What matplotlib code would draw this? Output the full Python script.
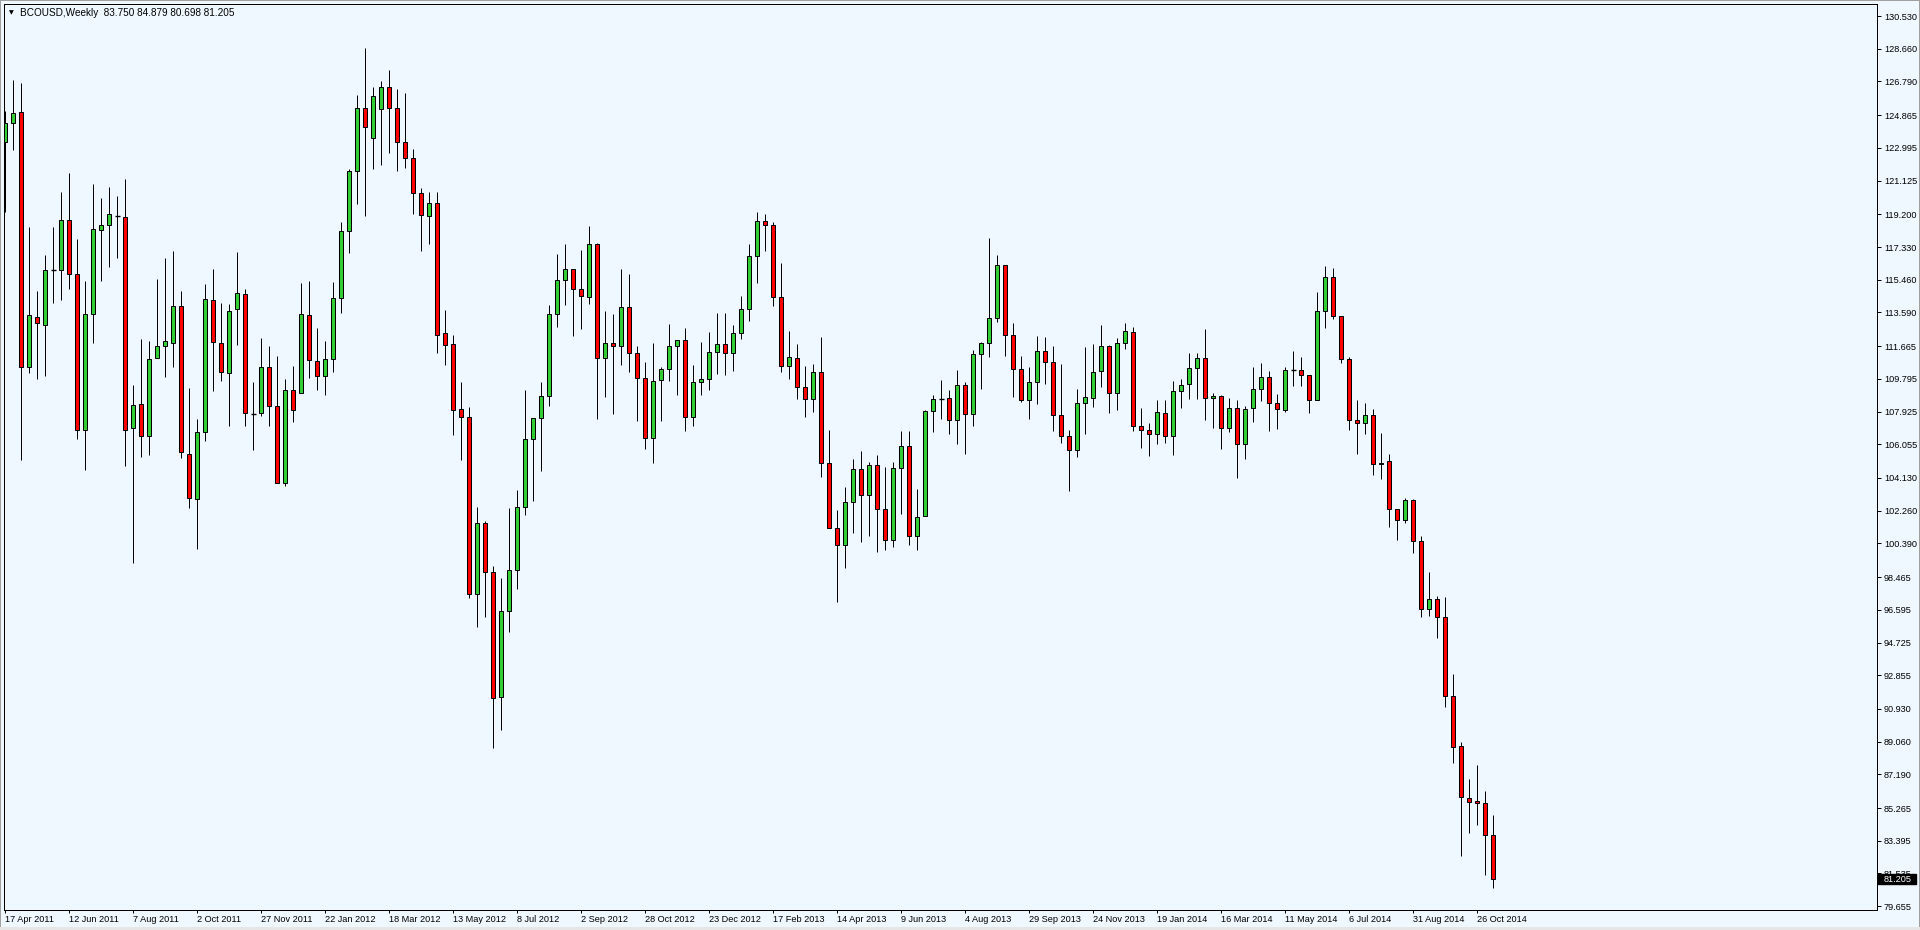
import matplotlib
matplotlib.use('Agg')
import matplotlib.pyplot as plt
from matplotlib.patches import Rectangle
import matplotlib.transforms as mtransforms

# ---------------- data (weekly BCOUSD candles) ----------------
opens = [123.35, 124.40, 125.03, 110.50, 113.32, 112.88, 115.99, 115.99, 118.85, 115.78,
         106.86, 113.51, 118.28, 118.57, 119.10, 119.02, 106.96, 108.34, 106.51, 110.98,
         111.65, 111.86, 113.95, 105.49, 102.91, 106.76, 114.28, 111.87, 110.11, 113.81,
         114.67, 107.77, 107.83, 110.50, 108.22, 103.86, 109.14, 109.01, 113.47, 110.84,
         109.98, 110.95, 114.44, 118.22, 121.66, 125.25, 123.54, 125.20, 126.46, 125.25,
         123.31, 122.44, 120.40, 119.11, 119.83, 112.40, 111.77, 108.06, 107.59, 97.49,
         101.55, 98.73, 91.61, 96.51, 98.85, 102.45, 106.34, 107.55, 108.79, 113.49,
         115.42, 116.06, 114.91, 114.47, 117.49, 110.98, 111.83, 111.65, 113.93, 111.26,
         109.83, 106.40, 109.71, 110.34, 111.65, 112.00, 107.60, 109.60, 109.77, 111.31,
         111.77, 111.25, 112.40, 113.77, 116.80, 118.80, 118.57, 114.45, 110.53, 110.97,
         109.31, 108.63, 110.17, 104.97, 101.25, 100.28, 102.74, 104.63, 103.14, 104.85,
         102.38, 100.60, 104.68, 105.94, 100.80, 101.94, 107.94, 108.64, 108.68, 107.43,
         109.43, 107.77, 111.20, 111.83, 113.25, 116.28, 112.28, 110.34, 108.57, 109.60,
         111.37, 110.74, 107.71, 106.51, 105.71, 108.40, 108.68, 110.23, 111.65, 108.97,
         111.83, 112.45, 107.08, 106.85, 106.63, 107.83, 106.51, 109.08, 109.48, 110.40,
         110.97, 108.68, 108.80, 106.97, 108.11, 106.05, 108.11, 109.20, 109.88, 108.40,
         108.04, 110.33, 110.33, 109.99, 108.57, 113.70, 115.60, 113.36, 110.91, 107.42,
         107.25, 107.75, 104.92, 105.09, 102.34, 101.72, 102.85, 100.52, 96.64, 97.20,
         96.19, 91.66, 88.80, 85.82, 85.65, 85.53, 83.750]
highs = [125.09, 126.88, 126.70, 118.47, 114.81, 116.86, 118.47, 120.48, 121.56, 117.78,
         115.38, 120.93, 120.13, 120.76, 120.24, 121.21, 109.44, 112.08, 111.96, 115.50,
         116.70, 117.10, 114.81, 109.28, 107.49, 115.21, 116.09, 114.15, 114.05, 117.04,
         114.91, 109.61, 112.13, 111.68, 111.11, 109.77, 110.53, 115.28, 115.38, 112.71,
         111.95, 115.33, 118.77, 121.79, 126.04, 128.71, 126.48, 126.80, 127.43, 126.38,
         126.12, 122.91, 120.68, 120.47, 120.45, 113.73, 112.28, 109.59, 108.16, 102.47,
         101.67, 99.10, 98.42, 102.42, 103.45, 109.16, 107.55, 109.59, 114.02, 116.93,
         117.51, 116.10, 117.16, 118.53, 117.55, 113.67, 113.51, 116.08, 115.79, 111.67,
         110.74, 111.83, 110.45, 112.91, 112.00, 112.68, 110.59, 111.88, 112.47, 113.56,
         113.56, 112.85, 114.51, 117.50, 119.31, 119.22, 118.76, 116.42, 112.53, 111.79,
         110.53, 110.64, 112.19, 106.87, 102.30, 103.62, 105.20, 105.67, 105.04, 105.44,
         104.76, 105.04, 106.82, 106.82, 103.50, 108.02, 108.85, 109.71, 109.14, 110.28,
         109.60, 111.43, 111.88, 117.83, 116.85, 116.30, 112.97, 111.08, 110.45, 112.23,
         112.17, 111.65, 110.64, 106.85, 109.20, 111.62, 111.79, 112.87, 111.73, 112.11,
         112.99, 112.74, 108.13, 107.27, 108.59, 108.59, 109.67, 109.77, 111.25, 111.25,
         112.63, 108.97, 108.85, 108.68, 108.57, 108.23, 110.45, 110.68, 110.23, 108.93,
         110.47, 111.39, 111.05, 109.99, 114.75, 116.25, 116.12, 113.36, 111.07, 108.60,
         108.43, 108.07, 106.70, 105.49, 102.34, 102.99, 102.92, 100.80, 98.78, 97.36,
         97.32, 92.94, 89.02, 86.93, 87.72, 86.25, 84.879]
lows = [119.32, 122.90, 105.15, 110.15, 109.76, 109.97, 114.14, 114.32, 114.95, 106.37,
        104.60, 111.86, 115.40, 116.21, 116.72, 104.84, 99.25, 105.35, 105.43, 110.96,
        109.91, 110.46, 105.29, 102.43, 100.09, 106.27, 109.13, 109.69, 107.12, 111.71,
        107.12, 105.75, 107.70, 107.12, 103.86, 103.66, 107.33, 109.01, 109.85, 109.14,
        108.85, 110.16, 113.57, 116.96, 119.77, 119.08, 121.76, 122.00, 122.68, 121.66,
        121.87, 119.24, 117.12, 117.51, 111.28, 110.59, 106.61, 105.18, 97.30, 95.63,
        96.16, 88.69, 89.75, 95.34, 97.77, 102.04, 102.83, 104.55, 108.22, 112.75,
        114.04, 112.26, 112.67, 114.10, 107.53, 108.77, 107.81, 110.61, 110.20, 107.41,
        105.77, 105.01, 107.41, 109.69, 108.89, 106.84, 107.12, 108.89, 109.18, 110.09,
        110.04, 110.26, 112.09, 113.12, 115.29, 117.12, 113.98, 110.21, 109.77, 108.63,
        107.60, 107.88, 104.17, 101.25, 97.03, 99.01, 101.00, 100.50, 100.80, 99.90,
        100.00, 100.20, 102.05, 100.30, 100.00, 101.94, 106.78, 107.52, 106.66, 106.09,
        105.52, 107.12, 109.24, 111.03, 113.03, 111.12, 108.78, 108.45, 107.52, 108.34,
        109.52, 106.84, 106.15, 103.41, 105.35, 106.66, 108.21, 109.35, 107.86, 108.04,
        111.48, 106.84, 105.86, 105.41, 106.09, 106.15, 105.46, 108.15, 108.66, 108.66,
        107.46, 107.01, 105.81, 106.78, 104.15, 105.24, 107.35, 108.55, 106.82, 106.94,
        107.88, 109.39, 109.39, 107.85, 108.57, 112.73, 113.24, 110.71, 106.87, 105.49,
        106.65, 104.29, 104.05, 101.31, 100.56, 101.53, 99.87, 96.16, 96.23, 95.01,
        91.06, 87.86, 82.52, 83.82, 84.30, 81.47, 80.698]
closes = [124.40, 124.97, 110.46, 113.42, 112.96, 115.99, 115.99, 118.85, 115.78, 106.86,
          113.48, 118.34, 118.57, 119.20, 119.10, 106.90, 108.28, 106.51, 110.92, 111.65,
          111.94, 113.95, 105.60, 102.97, 106.76, 114.34, 111.88, 110.21, 113.70, 114.73,
          107.83, 107.77, 110.50, 108.22, 103.86, 109.14, 108.04, 113.52, 110.90, 109.98,
          110.95, 114.44, 118.22, 121.66, 125.25, 124.17, 125.98, 126.46, 125.25, 123.33,
          122.44, 120.40, 119.16, 119.82, 112.32, 111.75, 108.04, 107.59, 97.49, 101.55,
          98.75, 91.55, 96.51, 98.85, 102.45, 106.34, 107.55, 108.79, 113.49, 115.42,
          116.06, 114.91, 114.51, 117.49, 110.98, 111.83, 111.65, 113.93, 111.26, 109.83,
          106.40, 109.65, 110.34, 111.65, 112.00, 107.60, 109.60, 109.77, 111.31, 111.77,
          111.25, 112.40, 113.77, 116.80, 118.80, 118.57, 114.45, 110.53, 111.03, 109.31,
          108.63, 110.17, 104.97, 101.25, 100.28, 102.74, 104.63, 103.14, 104.85, 102.38,
          100.60, 104.68, 105.94, 100.80, 101.92, 107.94, 108.63, 108.64, 107.43, 109.43,
          107.77, 111.20, 111.83, 113.25, 116.28, 112.28, 110.34, 108.57, 109.60, 111.37,
          110.74, 107.71, 106.51, 105.71, 108.40, 108.74, 110.17, 111.65, 108.97, 111.83,
          112.51, 107.08, 106.85, 106.63, 107.88, 106.51, 109.08, 109.43, 110.40, 110.97,
          108.68, 108.80, 106.97, 108.11, 106.05, 108.05, 109.20, 109.88, 108.40, 108.09,
          110.33, 110.33, 109.99, 108.57, 113.70, 115.60, 113.36, 110.91, 107.42, 107.25,
          107.75, 104.92, 105.01, 102.34, 101.72, 102.85, 100.52, 96.64, 97.20, 96.19,
          91.66, 88.78, 85.89, 85.60, 85.56, 83.73, 81.205]

date_labels = ['17 Apr 2011', '12 Jun 2011', '7 Aug 2011', '2 Oct 2011', '27 Nov 2011',
               '22 Jan 2012', '18 Mar 2012', '13 May 2012', '8 Jul 2012', '2 Sep 2012',
               '28 Oct 2012', '23 Dec 2012', '17 Feb 2013', '14 Apr 2013', '9 Jun 2013',
               '4 Aug 2013', '29 Sep 2013', '24 Nov 2013', '19 Jan 2014', '16 Mar 2014',
               '11 May 2014', '6 Jul 2014', '31 Aug 2014', '26 Oct 2014']
label_step = 8

price_ticks = [130.530, 128.660, 126.790, 124.865, 122.995, 121.125, 119.200, 117.330,
               115.460, 113.590, 111.665, 109.795, 107.925, 106.055, 104.130, 102.260,
               100.390, 98.465, 96.595, 94.725, 92.855, 90.930, 89.060, 87.190, 85.265,
               83.395, 81.535, 79.655]

title_text = 'BCOUSD,Weekly  83.750 84.879 80.698 81.205'

# ---------------- figure ----------------
W, H = 1920, 930
BG = '#F0F8FF'
GREEN = '#32CD32'
RED = '#FF0000'
FONT = 'Liberation Sans'
FS = 6.6
PX = 72.0 / 100.0  # one pixel in points

fig = plt.figure(figsize=(W / 100, H / 100), dpi=100)
fig.patch.set_facecolor(BG)

left_px, right_px, top_px, bot_px = 4, 1877, 4, 910
ax = fig.add_axes([left_px / W, 1 - bot_px / H, (right_px - left_px) / W, (bot_px - top_px) / H])
ax.set_facecolor(BG)

n = len(opens)
body_w = 0.5
for i in range(n):
    o, h, l, c = opens[i], highs[i], lows[i], closes[i]
    ax.vlines(i, l, h, color='black', linewidth=PX, zorder=2)
    if abs(c - o) < 1e-6:
        ax.hlines(o, i - 0.32, i + 0.32, color='black', linewidth=1.4 * PX, zorder=3)
    else:
        col = GREEN if c > o else RED
        ax.add_patch(Rectangle((i - body_w / 2, min(o, c)), body_w, abs(c - o),
                               facecolor=col, edgecolor='black', linewidth=PX, zorder=3))

ax.set_xlim(-0.1875, 233.94)
ax.set_ylim(79.444, 131.216)

for sp in ax.spines.values():
    sp.set_color('black')
    sp.set_linewidth(PX)

# right price axis
ax.yaxis.tick_right()
ax.set_yticks(price_ticks)
ax.set_yticklabels(['%.3f' % v for v in price_ticks], fontsize=FS, family=FONT)
ax.tick_params(axis='y', direction='out', length=4 * PX, width=PX, pad=3 * PX, colors='black')

# bottom date axis
xt = [i * label_step for i in range(len(date_labels))]
ax.set_xticks(xt)
ax.set_xticklabels(date_labels, fontsize=FS, family=FONT, ha='left')
ax.tick_params(axis='x', direction='out', length=3 * PX, width=PX, pad=1.5 * PX, colors='black')

# current price box
tr = mtransforms.blended_transform_factory(ax.transAxes, ax.transData)
last = closes[-1]
half_h = 5.3 / 17.5
ax.add_patch(Rectangle((1.0005, last - half_h), 0.0205, 2 * half_h, transform=tr,
                       facecolor='black', edgecolor='black', clip_on=False, zorder=10))
ax.text(1.0037, last, '%.3f' % last, transform=tr, color='white', fontsize=FS, family=FONT,
        va='center', ha='left', zorder=11, clip_on=False)

# title
fig.text(11.5 / W, 1 - 13 / H, '\u25BC', fontsize=4.5, family='DejaVu Sans', ha='center', va='center', color='black')
fig.text(20.5 / W, 1 - 13 / H, title_text, fontsize=7.2, family=FONT, ha='left', va='center', color='black')

# window border
fig.add_artist(Rectangle((0, 0), 1, 1, transform=fig.transFigure, fill=False,
                         edgecolor='#A0A0A0', linewidth=2 * PX))
fig.add_artist(Rectangle((0, 0), 1, 3 / H, transform=fig.transFigure, facecolor='#E6E6E6',
                         edgecolor='none'))

fig.savefig('out.png', dpi=100, facecolor=BG)
